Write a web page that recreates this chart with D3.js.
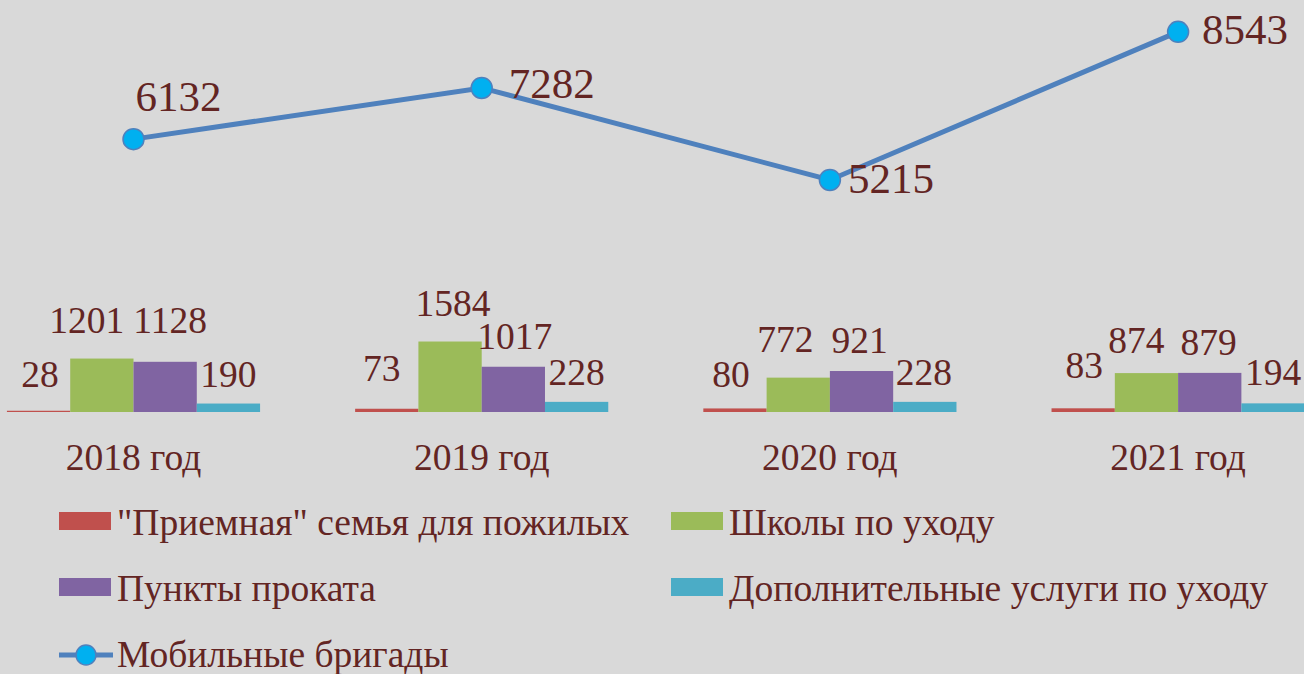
<!DOCTYPE html>
<html>
<head>
<meta charset="utf-8">
<script src="https://cdn.jsdelivr.net/npm/d3@7"></script>
<style>
  html, body { margin: 0; padding: 0; background: #d9d9d9; }
  svg { display: block; }
  text { font-family: "Liberation Serif", "Times New Roman", serif; fill: #632523; }
</style>
</head>
<body>
<svg id="chart" width="1304" height="674"></svg>
<script>
// ---- Data ----
const categories = ["2018 год", "2019 год", "2020 год", "2021 год"];
const seriesNames = ["\"Приемная\" семья для пожилых", "Школы по уходу", "Пункты проката", "Дополнительные услуги по уходу"];
const fosterFamily = [28, 73, 80, 83];
const careSchools = [1201, 1584, 772, 874];
const rentalPoints = [1128, 1017, 921, 879];
const extraServices = [190, 228, 228, 194];
const lineName = "Мобильные бригады";
const mobileTeams = [6132, 7282, 5215, 8543];

// ---- Layout / style ----
const W = 1304, H = 674;
const barColors = ["#c0504d", "#9bbb59", "#8064a2", "#4bacc6"];
const lineColor = "#4f81bd";
const markerFill = "#00b0f0";
const barSeries = [fosterFamily, careSchools, rentalPoints, extraServices];
const textSize = 37.5;
// manual label placement offsets (dx, dy) per category, per series, as in the original
const barLabelNudge = [
  [[1.5, 0], [-15, -1.5], [5, -5], [0, 7.5]],
  [[-5, -4], [3, -1.5], [1.5, 6], [0, 7]],
  [[-4, 2.5], [-13, -1.5], [-2, 6], [-1, 7]],
  [[1, -6], [-10, 4], [-1, 6], [0, 5.5]]
];
const lineLabelNudge = [[2, -28], [27, 10], [18, 13], [24, 12]];

const svg = d3.select("#chart");
svg.append("rect").attr("width", W).attr("height", H).attr("fill", "#d9d9d9");

const x = d3.scaleBand()
  .domain(categories)
  .range([-40.6, 1352.2])
  .paddingInner(0.273)
  .paddingOuter(0.1365);

const xInner = d3.scaleBand()
  .domain(d3.range(barSeries.length))
  .range([0, x.bandwidth()]);

const y = d3.scaleLinear().domain([0, 9000]).range([412, 412 - 9000 * 0.0445]);

// Bars
const barData = [];
categories.forEach((c, ci) => {
  barSeries.forEach((s, si) => barData.push({ c, ci, si, v: s[ci] }));
});

svg.append("g").selectAll("rect").data(barData).join("rect")
  .attr("x", d => x(d.c) + xInner(d.si))
  .attr("y", d => y(d.v))
  .attr("width", xInner.bandwidth())
  .attr("height", d => y(0) - y(d.v))
  .attr("fill", d => barColors[d.si]);

// Bar labels
svg.append("g").selectAll("text").data(barData).join("text")
  .attr("x", d => x(d.c) + xInner(d.si) + xInner.bandwidth() / 2 + barLabelNudge[d.ci][d.si][0])
  .attr("y", d => y(d.v) - 24 + barLabelNudge[d.ci][d.si][1])
  .attr("text-anchor", "middle")
  .attr("font-size", textSize)
  .text(d => d.v);

// Category labels
svg.append("g").selectAll("text").data(categories).join("text")
  .attr("x", d => x(d) + x.bandwidth() / 2)
  .attr("y", 470)
  .attr("text-anchor", "middle")
  .attr("font-size", textSize)
  .text(d => d);

// Line
const lineData = categories.map((c, i) => ({ c, v: mobileTeams[i], i }));
const cx = d => x(d.c) + x.bandwidth() / 2;
svg.append("path")
  .datum(lineData)
  .attr("fill", "none")
  .attr("stroke", lineColor)
  .attr("stroke-width", 5)
  .attr("d", d3.line().x(cx).y(d => y(d.v)));

svg.append("g").selectAll("circle").data(lineData).join("circle")
  .attr("cx", cx)
  .attr("cy", d => y(d.v))
  .attr("r", 10.5)
  .attr("fill", markerFill)
  .attr("stroke", lineColor)
  .attr("stroke-width", 1.5);

svg.append("g").selectAll("text").data(lineData).join("text")
  .attr("x", d => cx(d) + lineLabelNudge[d.i][0])
  .attr("y", d => y(d.v) + lineLabelNudge[d.i][1])
  .attr("font-size", 43)
  .text(d => d.v);

// Legend
const legendItems = [
  { name: seriesNames[0], color: barColors[0], col: 0, row: 0 },
  { name: seriesNames[1], color: barColors[1], col: 1, row: 0 },
  { name: seriesNames[2], color: barColors[2], col: 0, row: 1 },
  { name: seriesNames[3], color: barColors[3], col: 1, row: 1 }
];
const colX = [59, 671];
const rowY = [535, 601, 667];

const lg = svg.append("g");
legendItems.forEach(it => {
  const gx = colX[it.col], gy = rowY[it.row];
  lg.append("rect").attr("x", gx).attr("y", gy - 23).attr("width", 52).attr("height", 18).attr("fill", it.color);
  lg.append("text").attr("x", gx + 58).attr("y", gy).attr("font-size", textSize).text(it.name);
});
// line legend
{
  const gx = colX[0], gy = rowY[2];
  lg.append("line").attr("x1", gx).attr("x2", gx + 54).attr("y1", gy - 12).attr("y2", gy - 12)
    .attr("stroke", lineColor).attr("stroke-width", 5);
  lg.append("circle").attr("cx", gx + 27).attr("cy", gy - 12).attr("r", 10)
    .attr("fill", markerFill).attr("stroke", lineColor).attr("stroke-width", 1.5);
  lg.append("text").attr("x", gx + 58).attr("y", gy).attr("font-size", textSize).text(lineName);
}
</script>
</body>
</html>
